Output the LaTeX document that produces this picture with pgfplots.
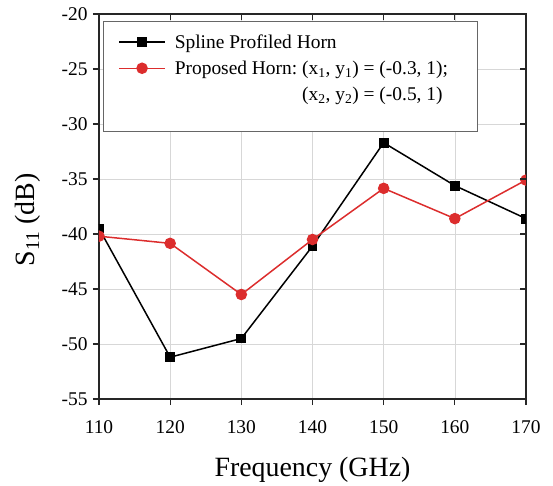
\documentclass[border=0pt]{standalone}
\usepackage{fontspec}
\setmainfont{Liberation Serif}
\usepackage{pgfplots}
\pgfplotsset{compat=1.18}

\definecolor{myred}{RGB}{220,45,45}
\definecolor{gridgray}{RGB}{215,215,215}

\begin{document}
\begin{tikzpicture}
\path[use as bounding box] (-99bp,-87bp) rectangle (454bp,399bp);
\begin{axis}[
    scale only axis,
    width=427bp, height=385bp,
    xmin=110, xmax=170, ymin=-55, ymax=-20,
    xtick={110,120,...,170}, ytick={-55,-50,...,-20},
    grid=major,
    major grid style={gridgray, line width=0.6bp},
    axis line style={black!85, line width=1.2bp},
    tick style={black!85, line width=1.2bp},
    major tick length=6bp,
    tick align=outside,
    tick pos=left,
    clip marker paths=true,
    /pgf/number format/assume math mode=true,
    ticklabel style={font=\fontsize{19.5}{22}\selectfont},
    xticklabel style={yshift=-12bp},
    yticklabel style={xshift=-2bp},
    xlabel={Frequency (GHz)},
    ylabel={S\textsubscript{11} (dB)},
    label style={font=\fontsize{28}{32}\selectfont},
    xlabel style={at={(axis description cs:0.5,-0.184)}, anchor=center},
    ylabel style={at={(axis description cs:-0.166,0.465)}, anchor=center},
    legend style={at={(axis description cs:0.0094,0.981)}, anchor=north west,
        draw=black!60, line width=0.6bp, fill=white,
        font=\fontsize{19.5}{24}\selectfont,
        inner xsep=15bp, inner ysep=11bp,
        row sep=7bp,
        /tikz/every odd column/.append style={column sep=7bp}},
    legend cell align=left,
    legend image code/.code={%
        \draw[mark repeat=2,mark phase=2] plot coordinates {(0bp,0bp)(23bp,0bp)(46bp,0bp)};},
]
\addplot[black, line width=1.5bp, mark=square*, mark size=4.2bp, mark options={solid}]
    coordinates {
    (110,-39.5) (120,-51.2) (130,-49.5) (140,-41.1) (150,-31.7) (160,-35.6) (170,-38.6)
};
\addlegendentry{Spline Profiled Horn}
\addplot[myred, line width=1.5bp, mark=*, mark size=5bp, mark options={solid, fill=myred}]
    coordinates {
    (110,-40.2) (120,-40.85) (130,-45.5) (140,-40.5) (150,-35.85) (160,-38.6) (170,-35.1)
};
\addlegendentry{Proposed Horn:\ (x\textsubscript{1}, y\textsubscript{1}) = (-0.3, 1);\hspace*{12bp}}
\addlegendimage{empty legend}
\addlegendentry{\phantom{Proposed Horn:\ }(x\textsubscript{2}, y\textsubscript{2}) = (-0.5, 1)}
\addlegendimage{empty legend}
\addlegendentry{\rule{0pt}{4bp}}
\end{axis}
\begin{axis}[
    scale only axis,
    width=427bp, height=385bp,
    xmin=110, xmax=170, ymin=-55, ymax=-20,
    xtick={110,120,...,170}, ytick={-55,-50,...,-20},
    axis line style={draw=none},
    tick style={black!85, line width=1.2bp},
    major tick length=6bp,
    tick align=inside,
    xtick pos=right, ytick pos=right,
    xticklabels={}, yticklabels={},
]
\end{axis}
\end{tikzpicture}
\end{document}
